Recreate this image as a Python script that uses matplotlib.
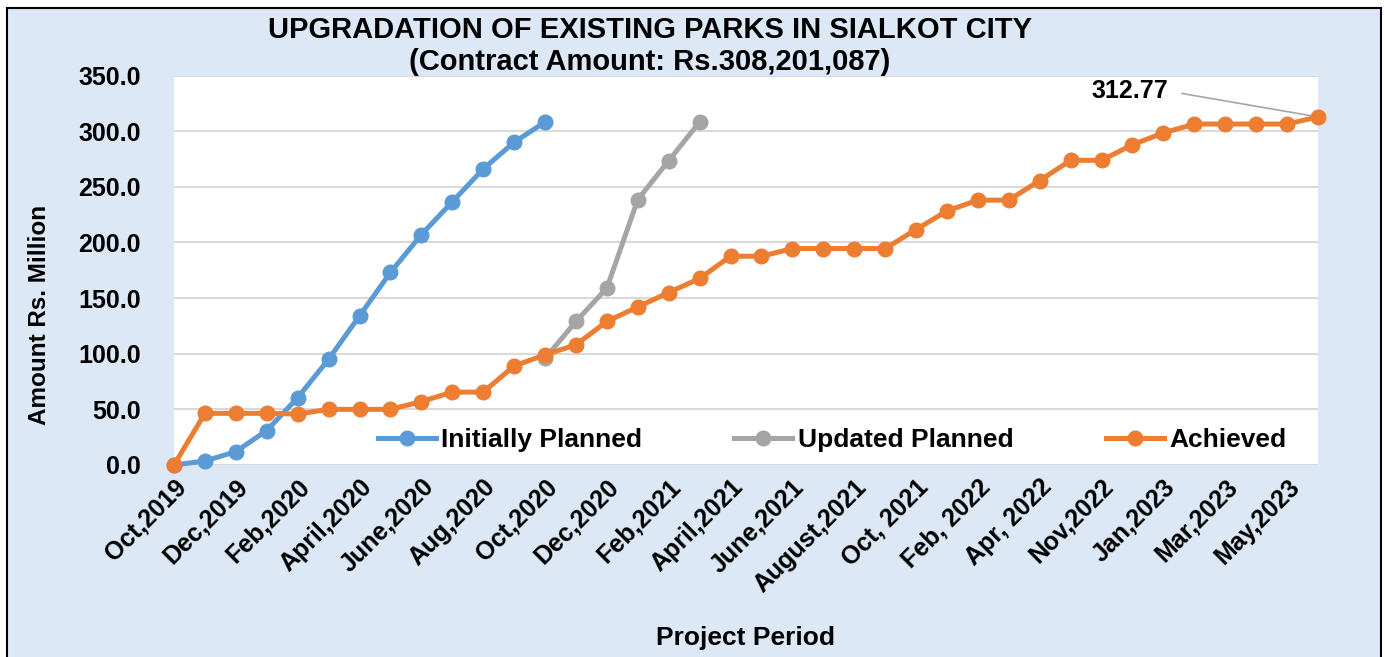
import matplotlib.pyplot as plt
import matplotlib.transforms as mtransforms
from matplotlib.patches import Rectangle

# valores (Rs. millones)
initially_planned = [0.0, 3.6, 12.0, 31.0, 60.5, 95.0, 134.0, 173.0, 207.0,
                     236.5, 266.0, 290.0, 308.2]
updated_planned = [95.8, 129.0, 159.0, 238.5, 273.5, 308.2]
updated_start = 12
achieved = [0.0, 46.4, 46.4, 46.4, 45.8, 50.0, 50.0, 50.0, 57.0, 65.5,
            65.5, 89.0, 99.0, 108.0, 129.0, 142.0, 155.0, 167.6, 187.6, 187.6,
            194.5, 194.5, 194.5, 194.5, 211.6, 228.3, 238.0, 238.0, 255.6, 273.8,
            273.8, 287.9, 298.4, 306.4, 306.4, 306.4, 306.4, 312.77]
x_labels = ["Oct,2019", "Dec,2019", "Feb,2020", "April,2020", "June,2020",
            "Aug,2020", "Oct,2020", "Dec,2020", "Feb,2021", "April,2021",
            "June,2021", "August,2021", "Oct, 2021", "Feb, 2022", "Apr, 2022",
            "Nov,2022", "Jan,2023", "Mar,2023", "May,2023"]

plt.rcParams['font.family'] = ['Liberation Sans', 'DejaVu Sans']
plt.rcParams['font.weight'] = 'bold'

fig = plt.figure(figsize=(13.85, 6.57), dpi=100, facecolor='white')
fondo = Rectangle((7 / 1385, -0.01), 1374 / 1385, 1.01 - 8 / 657,
                  transform=fig.transFigure, facecolor='#dce8f5',
                  edgecolor='black', linewidth=1.5, zorder=-10)
fig.patches.append(fondo)

ax = fig.add_axes([174 / 1385, 1 - 465 / 657, 1144 / 1385, 389.5 / 657])
ax.set_facecolor('white')

x_ini = list(range(len(initially_planned)))
x_upd = list(range(updated_start, updated_start + len(updated_planned)))
x_ach = list(range(len(achieved)))

estilo = dict(linewidth=3.6, marker='o', markersize=10.5, clip_on=False)
ax.plot(x_upd, updated_planned, color='#a5a5a5', label="Updated Planned", zorder=3, **estilo)
ax.plot(x_ini, initially_planned, color='#5b9bd5', label="Initially Planned", zorder=4, **estilo)
ax.plot(x_ach, achieved, color='#ed7d31', label="Achieved", zorder=5, **estilo)

ax.set_xlim(0, len(achieved) - 1)
ax.set_ylim(0, 350)
ax.set_yticks(range(0, 351, 50))
ax.set_yticklabels([f"{v:.1f}" for v in range(0, 351, 50)], fontsize=18, fontweight='bold')
ax.set_xticks(range(0, len(achieved), 2))
ax.set_xticklabels(x_labels, rotation=45, ha='right', rotation_mode='anchor',
                   fontsize=18, fontweight='bold')
desplazar = mtransforms.ScaledTranslation(-6 / 72, -3 / 72, fig.dpi_scale_trans)
for lab in ax.get_xticklabels():
    lab.set_transform(lab.get_transform() + desplazar)
ax.tick_params(axis='both', length=0)
ax.tick_params(axis='y', pad=24)
ax.tick_params(axis='x', pad=7)
ax.grid(True, axis='y', color='#d9d9d9', linewidth=1.5)
ax.set_axisbelow(True)
for s in ax.spines.values():
    s.set_visible(False)

ax.annotate("312.77", xy=(len(achieved) - 1, achieved[-1]), xytext=(32.15, 336),
            ha='right', va='center', fontsize=18, fontweight='bold',
            arrowprops=dict(arrowstyle='-', color='#a5a5a5', lw=1.2,
                            relpos=(1, 0.5), shrinkA=8, shrinkB=2))

handles, labels = ax.get_legend_handles_labels()
orden = [1, 0, 2]
ax.legend([handles[i] for i in orden], [labels[i] for i in orden], ncol=3,
          loc='center', bbox_to_anchor=(0.575, 0.064), frameon=False,
          handlelength=2.2, handletextpad=0.2, columnspacing=3.5,
          prop={'weight': 'bold', 'size': 19})

fig.text(650 / 1385, 1 - 30 / 657, "UPGRADATION OF EXISTING PARKS IN SIALKOT CITY",
         ha='center', va='center', fontsize=21, fontweight='bold')
fig.text(650 / 1385, 1 - 62 / 657, "(Contract Amount: Rs.308,201,087)",
         ha='center', va='center', fontsize=21, fontweight='bold')
fig.text(40 / 1385, 1 - 315 / 657, "Amount Rs. Million", rotation=90,
         ha='center', va='center', fontsize=17.5, fontweight='bold')
fig.text(745 / 1385, 1 - 638 / 657, "Project Period",
         ha='center', va='center', fontsize=19, fontweight='bold')

fig.savefig("out.png", dpi=100, facecolor=fig.get_facecolor())
